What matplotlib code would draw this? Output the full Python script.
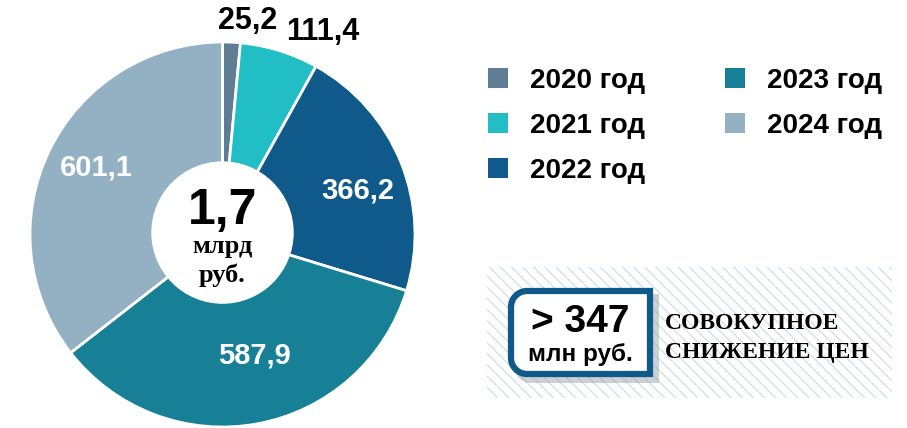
import matplotlib
matplotlib.use("Agg")
import matplotlib.pyplot as plt
from matplotlib.patches import Patch, Circle, Rectangle, PathPatch
from matplotlib.path import Path
import numpy as np

years = ["2020 год", "2021 год", "2022 год", "2023 год", "2024 год"]
values = [25.2, 111.4, 366.2, 587.9, 601.1]
value_labels = ["25,2", "111,4", "366,2", "587,9", "601,1"]
colors = ["#5e7d95", "#22bec6", "#0f5a8a", "#177f96", "#94b1c4"]
total_label = ["1,7", "млрд", "руб."]
saving_value = "> 347"
saving_unit = "млн руб."
saving_text = "СОВОКУПНОЕ\nСНИЖЕНИЕ ЦЕН"

W, H = 907, 428
fig = plt.figure(figsize=(W / 100, H / 100), dpi=100)
plt.rcParams["hatch.linewidth"] = 0.9

sans = "Liberation Sans"
serif = "Liberation Serif"

# pie axes (circle centre ~ (222.5, 234.5) px, radius 192.5 px)
cx, cy, r = 222.5, 234.5, 192.5
ax = fig.add_axes([(cx - r) / W, (H - cy - r) / H, 2 * r / W, 2 * r / H])
wedges, _ = ax.pie(values, colors=colors, startangle=90, counterclock=False,
                   radius=1.0, wedgeprops=dict(edgecolor="white", linewidth=2))
ax.set_xlim(-1, 1)
ax.set_ylim(-1, 1)
ax.set_aspect("equal")
ax.axis("off")

# label placement: (radius, angle offset in deg, colour, size)
placement = [(1.117, -4.1, "black", 22), (1.174, -9.2, "black", 22),
             (0.74, -3.8, "white", 21), (0.65, 4.5, "white", 21),
             (0.74, -2.0, "white", 21)]
for w, lab, (rr, doff, col, fs) in zip(wedges, value_labels, placement):
    mid = np.deg2rad((w.theta1 + w.theta2) / 2 + doff)
    ax.text(rr * np.cos(mid), rr * np.sin(mid), lab, ha="center", va="center",
            fontsize=fs, fontweight="bold", color=col, family=sans)

ax.add_patch(Circle((0, 0.01), 0.37, facecolor="white", edgecolor="none", zorder=5))
ax.text(0, 0.12, total_label[0], ha="center", va="center", fontsize=36,
        fontweight="bold", family=sans, zorder=6)
ax.text(0, -0.06, total_label[1], ha="center", va="center", fontsize=19,
        fontweight="bold", family=serif, zorder=6)
ax.text(0, -0.21, total_label[2], ha="center", va="center", fontsize=19,
        fontweight="bold", family=serif, zorder=6)

# legend
handles = [Patch(facecolor=c, edgecolor="none") for c in colors]
fig.legend(handles, years, ncol=2, loc="upper left",
           bbox_to_anchor=(463 / W, 1 - 43 / H), frameon=False,
           prop=dict(family=sans, weight="bold", size=20),
           handlelength=0.72, handleheight=0.72, handletextpad=0.8,
           columnspacing=2.85, labelspacing=0.68)

# overlay axes in pixel coordinates
ov2 = fig.add_axes([0, 0, 1, 1], zorder=10)
ov2.set_xlim(0, W)
ov2.set_ylim(H, 0)
ov2.axis("off")

ov2.add_patch(Rectangle((487, 267), 405, 131, facecolor="white",
                        edgecolor="#cfdfe6", hatch="\\\\\\", linewidth=0))


def box_path(x0, y0, x1, y1, rad):
    k = 0.5523 * rad
    verts = [(x1, y0), (x0 + rad, y0), (x0 + rad - k, y0), (x0, y0 + rad - k),
             (x0, y0 + rad), (x0, y1 - rad), (x0, y1 - rad + k), (x0 + rad - k, y1),
             (x0 + rad, y1), (x1, y1), (x1, y0)]
    codes = [Path.MOVETO, Path.LINETO, Path.CURVE4, Path.CURVE4, Path.CURVE4,
             Path.LINETO, Path.CURVE4, Path.CURVE4, Path.CURVE4, Path.LINETO,
             Path.CLOSEPOLY]
    return Path(verts, codes)


# shadow
ov2.add_patch(PathPatch(box_path(514, 294, 659, 383, 17), facecolor="#9aa4aa",
                        edgecolor="none", alpha=0.5))
ov2.add_patch(PathPatch(box_path(511, 291, 650, 374, 16), facecolor="white",
                        edgecolor="#0f5a8a", linewidth=4.5))

ov2.text(580, 322, saving_value, ha="center", va="center", fontsize=28,
         fontweight="bold", family=sans)
ov2.text(580, 354, saving_unit, ha="center", va="center", fontsize=17.5,
         fontweight="bold", family=sans)
ov2.text(665, 338, saving_text, ha="left", va="center", fontsize=17,
         fontweight="bold", family=serif, linespacing=1.45)

fig.savefig("out.png", dpi=100)
